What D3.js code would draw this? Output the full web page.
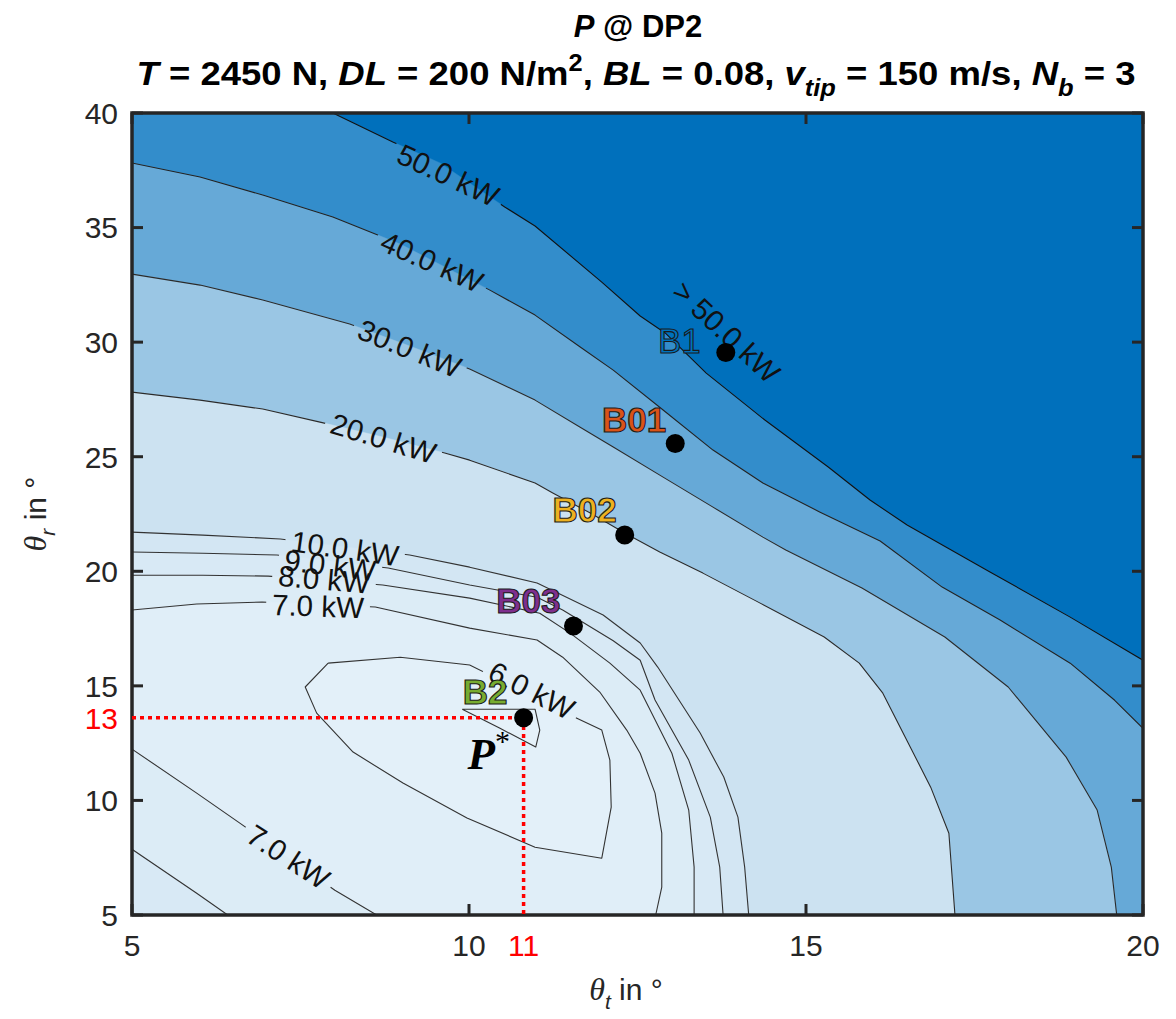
<!DOCTYPE html>
<html><head><meta charset="utf-8">
<script src="https://cdn.jsdelivr.net/npm/d3@7"></script>
<style>body{margin:0;background:#fff;} svg{display:block;}</style>
</head><body>
<svg id="chart" width="1176" height="1019"></svg>
<script>
// ---------------- DATA ----------------
const xDomain = [5, 20];
const yDomain = [5, 40];
const xTicks = [5, 10, 15, 20];
const yTicks = [5, 10, 15, 20, 25, 30, 35, 40];

// contour lines [theta_t, theta_r]
const c50 = [[7.98,40],[8.87,38.73],[9.57,37.82],[10.53,35.90],[10.98,35.07],[11.97,32.62],[12.54,31.14],[12.91,30.40],[13.52,28.65],[14.39,26.60],[15.33,24.55],[15.95,23.11],[16.50,22.02],[17.73,19.97],[18.92,18.00],[20,16.12]];
const c40 = [[5,37.82],[6.01,37.21],[6.94,36.42],[7.98,35.46],[8.98,34.28],[10.31,32.27],[10.98,31.18],[11.65,29.79],[12.14,28.78],[12.88,27.04],[13.62,25.29],[14.36,23.85],[15.21,22.58],[16.10,21.32],[17.02,19.31],[17.88,17.87],[18.92,15.99],[19.58,14.37],[20,13.15]];
const c30 = [[5,32.97],[6.01,32.49],[6.94,31.84],[8.23,30.79],[9.12,29.83],[10.01,28.83],[10.98,27.47],[11.65,26.29],[12.14,25.42],[12.88,24.11],[13.62,22.80],[14.36,21.49],[14.70,20.93],[15.83,19.27],[17.06,17.13],[18.00,14.95],[18.86,11.89],[19.32,9.58],[19.53,7.09],[19.61,5]];
const c20 = [[5,27.82],[6.01,27.47],[6.94,27.08],[7.79,26.51],[8.72,25.86],[9.64,25.16],[10.01,24.85],[10.98,23.85],[11.25,23.41],[11.80,22.54],[12.31,21.67],[12.83,20.84],[13.47,19.92],[14.32,18.61],[15.27,17.13],[15.79,15.99],[16.14,14.68],[16.85,10.58],[17.12,8.57],[17.21,5]];
const c10 = [[5,21.71],[6.05,21.58],[7.20,21.41],[9.12,20.71],[10.01,20.18],[11.01,19.49],[11.99,18.09],[12.54,16.87],[12.80,15.82],[13.43,12.94],[13.78,11.02],[13.99,9.27],[14.09,7.09],[14.15,5]];
const c9 = [[5,20.84],[6.05,20.79],[7.15,20.71],[8.80,20.14],[10.01,19.40],[11.01,18.87],[11.39,18.31],[12.14,16.97],[12.54,16.12],[12.76,14.38],[13.26,11.76],[13.58,9.27],[13.72,7.09],[13.77,5]];
const c8 = [[5,19.83],[6.05,19.83],[7.02,19.79],[8.72,19.40],[10.01,18.83],[11.05,18.17],[11.50,17.30],[12.09,15.99],[12.54,14.81],[13.01,12.06],[13.26,9.58],[13.34,7.09],[13.34,5]];
const c7 = [[5,18.31],[5.96,18.57],[6.93,18.66],[8.61,18.44],[10.01,17.52],[11.01,17.00],[11.39,16.25],[11.94,14.73],[12.34,13.07],[12.54,12.06],[12.76,10.32],[12.86,8.57],[12.86,6.22],[12.77,5]];
const c7low = [[5,12.24],[5.96,10.32],[6.60,9.01],[8.01,6.08],[8.63,5]];
const c8low = [[5,7.87],[5.96,5.95],[6.42,5]];
const c6 = [[7.91,15.99],[8.98,16.25],[10.01,15.91],[11.60,13.59],[11.97,13.07],[12.09,11.76],[12.11,9.71],[11.97,7.48],[10.98,7.96],[9.97,9.23],[9.02,10.76],[8.28,12.11],[7.74,13.81],[7.57,14.95],[7.91,15.99]];
const cMin = [[9.90,13.98],[10.98,13.98],[11.05,13.07],[10.99,12.33],[10.46,13.15],[9.90,13.98]];

// contour label texts and where they sit (theta_t, theta_r)
const labelTexts = ['50.0 kW','40.0 kW','30.0 kW','20.0 kW','10.0 kW','9.0 kW','8.0 kW','7.0 kW','7.0 kW','6.0 kW','> 50.0 kW'];
const labelT = [9.69, 9.45, 9.12, 8.73, 8.16, 7.94, 7.85, 7.76, 7.32, 10.93, 13.82];
const labelR = [37.29, 33.51, 29.73, 25.80, 21.0, 20.27, 19.65, 18.48, 7.54, 14.81, 30.45];

// design points
const pointNames = ['B1','B01','B02','B03','B2'];
const pointT = [13.81, 13.06, 12.31, 11.55, 10.81];
const pointR = [29.55, 25.58, 21.58, 17.61, 13.61];

// optimum marker
const optT = 10.81, optR = 13.61;
const optTLabel = '11', optRLabel = '13';

// ---------------- LAYOUT / STYLE ----------------
const M = {left:132, right:1143, top:113, bottom:915};
const svg = d3.select('#chart');
const x = d3.scaleLinear().domain(xDomain).range([M.left, M.right]);
const y = d3.scaleLinear().domain(yDomain).range([M.bottom, M.top]);
const line = d3.line().x(d => x(d[0])).y(d => y(d[1]));
const FONT = "'Liberation Sans', Arial, Helvetica, sans-serif";
const SERIF = "'Liberation Serif', 'Times New Roman', serif";
const axisColor = '#262626';
const tickSize = 30;

const BR = [xDomain[1], yDomain[0]], BL = [xDomain[0], yDomain[0]], TL = [xDomain[0], yDomain[1]];
const fills = [
  {color:'#0070BC', pts:[TL,[xDomain[1],yDomain[1]],BR,BL]},
  {color:'#338DCB', pts:c50.concat([BR, BL, TL])},
  {color:'#66A9D7', pts:c40.concat([BR, BL])},
  {color:'#9AC6E4', pts:c30.concat([BL])},
  {color:'#CCE2F1', pts:c20.concat([BL])},
  {color:'#D3E6F3', pts:c10.concat([BL])},
  {color:'#D8E9F5', pts:c9.concat([BL])},
  {color:'#DCECF6', pts:c8.concat(c8low.slice().reverse())},
  {color:'#E0EEF8', pts:c7.concat(c7low.slice().reverse())},
  {color:'#E3F0F9', pts:c6},
  {color:'#E5F1F9', pts:cMin}
];

const defs = svg.append('defs');
defs.append('clipPath').attr('id','plotclip').append('rect')
  .attr('x', M.left).attr('y', M.top).attr('width', M.right-M.left).attr('height', M.bottom-M.top);

const plot = svg.append('g').attr('clip-path','url(#plotclip)');
plot.selectAll('path.fill').data(fills).enter().append('path')
  .attr('class','fill').attr('d', d => line(d.pts) + 'Z')
  .attr('fill', d => d.color).attr('stroke', d => d.color).attr('stroke-width', 0.5);

const lines = [
  {pts:c50, lbl:[0], color:'#111'},
  {pts:c40, lbl:[1], color:'#222'},
  {pts:c30, lbl:[2], color:'#2a2a2a'},
  {pts:c20, lbl:[3], color:'#2a2a2a'},
  {pts:c10, lbl:[4], color:'#333'},
  {pts:c9, lbl:[5], color:'#333'},
  {pts:c8, lbl:[6], color:'#333'},
  {pts:c7, lbl:[7], color:'#333'},
  {pts:c7low, lbl:[8], color:'#333'},
  {pts:c8low, lbl:[], color:'#333'},
  {pts:c6, lbl:[9], color:'#333'},
  {pts:cMin, lbl:[], color:'#333'}
];
const labelAngle = [25, 24, 22, 17, 8, 7, 5, 2, 33, 27, 43];
const labelSize = 29.5;

const lblG = svg.append('g');
const lblNodes = labelTexts.map((t, i) => {
  const g = lblG.append('g').attr('transform', `translate(${x(labelT[i])},${y(labelR[i])}) rotate(${labelAngle[i]})`);
  const tx = g.append('text').text(t).attr('text-anchor','middle').attr('dominant-baseline','central')
    .attr('font-family', FONT).attr('font-size', labelSize).attr('fill','#111');
  return {g, tx};
});

lines.forEach((ln, k) => {
  let maskAttr = null;
  if (ln.lbl.length) {
    const m = defs.append('mask').attr('id','m'+k).attr('maskUnits','userSpaceOnUse')
      .attr('x',0).attr('y',0).attr('width',1176).attr('height',1019);
    m.append('rect').attr('x',0).attr('y',0).attr('width',1176).attr('height',1019).attr('fill','white');
    ln.lbl.forEach(i => {
      const w = lblNodes[i].tx.node().getComputedTextLength() + 12;
      m.append('rect').attr('transform', `translate(${x(labelT[i])},${y(labelR[i])}) rotate(${labelAngle[i]})`)
        .attr('x', -w/2).attr('y', -12).attr('width', w).attr('height', 24).attr('fill','black');
    });
    maskAttr = 'url(#m'+k+')';
  }
  plot.append('path').attr('d', line(ln.pts)).attr('fill','none')
    .attr('stroke', ln.color).attr('stroke-width', 1.1).attr('stroke-linejoin','round')
    .attr('mask', maskAttr);
});
lblG.raise();

// axes frame and ticks
const ax = svg.append('g');
ax.append('rect').attr('x', M.left).attr('y', M.top).attr('width', M.right-M.left).attr('height', M.bottom-M.top)
  .attr('fill','none').attr('stroke', axisColor).attr('stroke-width', 3.5);
const tl = 11;
xTicks.forEach(v => {
  ax.append('line').attr('x1', x(v)).attr('x2', x(v)).attr('y1', M.bottom).attr('y2', M.bottom - tl).attr('stroke', axisColor).attr('stroke-width', 3);
  ax.append('line').attr('x1', x(v)).attr('x2', x(v)).attr('y1', M.top).attr('y2', M.top + tl).attr('stroke', axisColor).attr('stroke-width', 3);
  ax.append('text').attr('x', x(v)).attr('y', 956).attr('text-anchor','middle')
    .attr('font-family', FONT).attr('font-size', tickSize).attr('fill', axisColor).text(v);
});
yTicks.forEach(v => {
  ax.append('line').attr('x1', M.left).attr('x2', M.left + tl).attr('y1', y(v)).attr('y2', y(v)).attr('stroke', axisColor).attr('stroke-width', 3);
  ax.append('line').attr('x1', M.right).attr('x2', M.right - tl).attr('y1', y(v)).attr('y2', y(v)).attr('stroke', axisColor).attr('stroke-width', 3);
  ax.append('text').attr('x', 118).attr('y', y(v)).attr('dy','0.36em').attr('text-anchor','end')
    .attr('font-family', FONT).attr('font-size', tickSize).attr('fill', axisColor).text(v);
});

// red optimum guides
const red = '#FF0000';
svg.append('path').attr('d', line([[xDomain[0], optR],[optT, optR],[optT, yDomain[0]]]))
  .attr('fill','none').attr('stroke', red).attr('stroke-width', 3.5).attr('stroke-dasharray','4 4');
svg.append('text').attr('x', x(optT)).attr('y', 956).attr('text-anchor','middle')
  .attr('font-family', FONT).attr('font-size', tickSize).attr('fill', red).text(optTLabel);
svg.append('text').attr('x', 118).attr('y', y(optR)).attr('dy','0.36em').attr('text-anchor','end')
  .attr('font-family', FONT).attr('font-size', tickSize).attr('fill', red).text(optRLabel);

// design points
const pointStyle = [
  {fill:'#0072BD', weight:'normal', dx:-25, dy:1},
  {fill:'#D95319', weight:'bold', dx:-9, dy:-11},
  {fill:'#EDB120', weight:'bold', dx:-8, dy:-13},
  {fill:'#7E2F8E', weight:'bold', dx:-13, dy:-13},
  {fill:'#77AC30', weight:'bold', dx:-16, dy:-14}
];
pointNames.forEach((n, i) => {
  svg.append('circle').attr('cx', x(pointT[i])).attr('cy', y(pointR[i])).attr('r', 9.5).attr('fill','#000');
  const s = pointStyle[i];
  svg.append('text').attr('x', x(pointT[i]) + s.dx).attr('y', y(pointR[i]) + s.dy)
    .attr('text-anchor','end').attr('font-family', FONT).attr('font-size', 35).attr('font-weight', s.weight)
    .attr('fill', s.fill).attr('stroke', '#1a1a1a').attr('stroke-width', 1.1).text(n);
});

// P* label
const ps = svg.append('text').attr('x', x(optT) - 56).attr('y', y(optR) + 51)
  .attr('font-family', SERIF).attr('font-size', 45).attr('font-weight','bold').attr('font-style','italic').attr('fill','#000');
ps.append('tspan').text('P');
ps.append('tspan').attr('font-size', 30).attr('font-weight','normal').attr('font-style','normal').attr('dy', -18).text('*');

// titles
const t1 = svg.append('text').attr('x', 638).attr('y', 37).attr('text-anchor','middle')
  .attr('font-family', FONT).attr('font-size', 31).attr('font-weight','bold').attr('fill','#000');
t1.append('tspan').attr('font-style','italic').text('P');
t1.append('tspan').text(' @ DP2');

const t2 = svg.append('text').attr('x', 636).attr('y', 85).attr('text-anchor','middle')
  .attr('font-family', FONT).attr('font-size', 33).attr('font-weight','bold').attr('fill','#000')
  .attr('textLength', 999).attr('lengthAdjust', 'spacingAndGlyphs');
const parts = [
  ['T', 'i'], [' = 2450 N, '], ['DL','i'], [' = 200 N/m'], ['2','sup'], [', '], ['BL','i'], [' = 0.08, '],
  ['v','i'], ['tip','isub'], [' = 150 m/s, '], ['N','i'], ['b','isub'], [' = 3']
];
let shift = 0;
parts.forEach(p => {
  const ts = t2.append('tspan').text(p[0]);
  let target = 0;
  if (p[1] === 'i') ts.attr('font-style','italic');
  if (p[1] === 'sup') { ts.attr('font-size', 23); target = -14; }
  if (p[1] === 'isub') { ts.attr('font-size', 23).attr('font-style','italic'); target = 11; }
  if (target !== shift) { ts.attr('dy', target - shift); shift = target; }
});

// axis labels
const xl = svg.append('text').attr('x', 626).attr('y', 1000).attr('text-anchor','middle')
  .attr('font-family', FONT).attr('font-size', 30).attr('fill', axisColor);
xl.append('tspan').attr('font-family', SERIF).attr('font-style','italic').attr('font-size', 32).text('θ');
xl.append('tspan').attr('font-style','italic').attr('font-size', 21).attr('dy', 9).text('t');
xl.append('tspan').attr('dy', -9).text(' in °');

const yl = svg.append('text').attr('transform', 'translate(46,514) rotate(-90)').attr('text-anchor','middle')
  .attr('font-family', FONT).attr('font-size', 30).attr('fill', axisColor);
yl.append('tspan').attr('font-family', SERIF).attr('font-style','italic').attr('font-size', 32).text('θ');
yl.append('tspan').attr('font-style','italic').attr('font-size', 21).attr('dy', 9).text('r');
yl.append('tspan').attr('dy', -9).text(' in °');
</script>
</body></html>
